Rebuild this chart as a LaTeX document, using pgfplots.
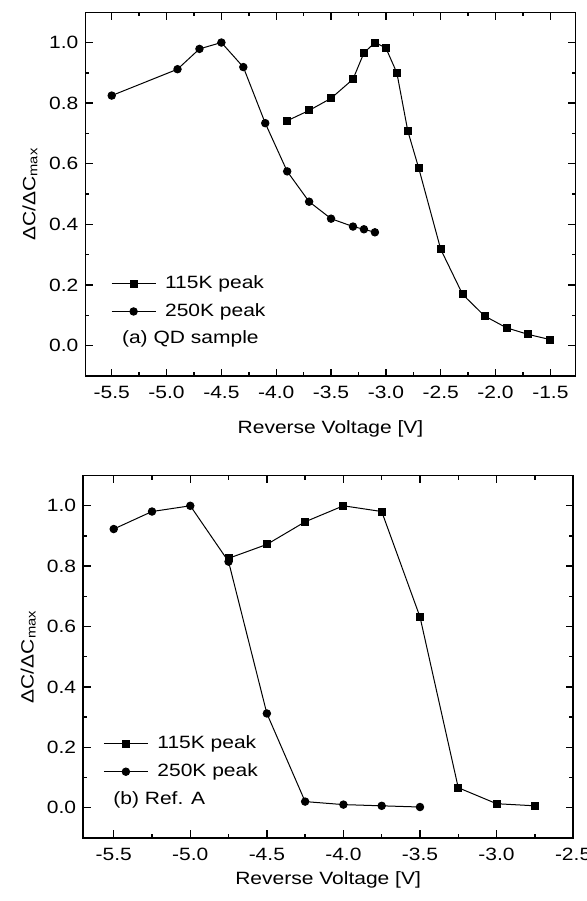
\documentclass[border=0pt]{standalone}
\usepackage{fontspec}
\setmainfont{Liberation Sans}[FakeStretch=1.18]
\usepackage{pgfplots}
\pgfplotsset{compat=1.18}
\newcommand{\ff}{\fontsize{8.9}{10.5}\selectfont}
\pgfplotsset{myax/.style={
  scale only axis,
  ymin=-0.1, ymax=1.1,
  ytick={0,0.2,0.4,0.6,0.8,1.0},
  minor y tick num=1,
  minor x tick num=1,
  tick align=inside,
  major tick length=3.75pt, minor tick length=2pt,
  axis line style={line width=0.7pt},
  every tick/.style={black, line width=0.7pt},
  xticklabel={\pgfmathprintnumber[fixed, fixed zerofill, precision=1, assume math mode=true]{\tick}},
  yticklabel={\pgfmathprintnumber[fixed, fixed zerofill, precision=1, assume math mode=true]{\tick}},
  tick label style={font=\ff},
  xticklabel style={yshift=-1.5pt},
  label style={font=\ff},
  ylabel={ΔC/ΔC\textsubscript{max}},
  xlabel={Reverse Voltage [V]},
  legend cell align=left,
  legend style={draw=none, fill=none, inner sep=0pt, row sep=4pt, column sep=3.5pt,
     font=\ff, nodes={inner sep=1pt}},
  legend image code/.code={\draw[mark repeat=2,mark phase=2] plot coordinates {(0pt,0pt)(11pt,0pt)(22pt,0pt)};},
}}
\begin{document}
\begin{tikzpicture}[x=1pt,y=1pt]
\path[use as bounding box] (0,0) rectangle (293.5,-450.5);
% (a)
\begin{axis}[myax,
  at={(42.7pt,-6.1pt)}, anchor=north west,
  width=245.1pt, height=181.9pt,
  xmin=-5.74, xmax=-1.27,
  xtick={-5.5,-5,-4.5,-4,-3.5,-3,-2.5,-2,-1.5},
  ylabel style={at={(axis description cs:-0.113,0.5)}, anchor=center},
  xlabel style={at={(axis description cs:0.5,-0.146)}, anchor=center},
  legend style={at={(axis description cs:0.0516,0.2157)}, anchor=west},
]
\addplot[black, line width=0.5pt, mark=square*, mark size=1.75pt, mark options={fill=black}] coordinates {
(-3.9,0.742) (-3.7,0.776) (-3.5,0.816) (-3.3,0.879) (-3.2,0.966) (-3.1,1.0)
(-3.0,0.982) (-2.9,0.900) (-2.8,0.708) (-2.7,0.585) (-2.5,0.318) (-2.3,0.169)
(-2.1,0.098) (-1.9,0.059) (-1.7,0.037) (-1.5,0.020)};
\addlegendentry{115K peak}
\addplot[black, line width=0.5pt, mark=*, mark size=1.85pt, mark options={fill=black}] coordinates {
(-5.5,0.825) (-4.9,0.912) (-4.7,0.979) (-4.5,1.0) (-4.3,0.919) (-4.1,0.734)
(-3.9,0.575) (-3.7,0.475) (-3.5,0.419) (-3.3,0.393) (-3.2,0.384) (-3.1,0.374)};
\addlegendentry{250K peak}
\node[anchor=west, font=\ff, inner sep=0pt] at (axis description cs:0.074,0.1016) {(a) QD sample};
\end{axis}
% (b)
\begin{axis}[myax,
  at={(41.55pt,-237.8pt)}, anchor=north west,
  width=245pt, height=181.1pt,
  xmin=-5.7, xmax=-2.5,
  xtick={-5.5,-5,-4.5,-4,-3.5,-3,-2.5},
  ylabel style={at={(axis description cs:-0.112,0.5)}, anchor=center},
  xlabel style={at={(axis description cs:0.5,-0.117)}, anchor=center},
  legend style={at={(axis description cs:0.0406,0.221)}, anchor=west},
]
\addplot[black, line width=0.5pt, mark=square*, mark size=1.75pt, mark options={fill=black}] coordinates {
(-4.75,0.826) (-4.5,0.872) (-4.25,0.947) (-4.0,1.0) (-3.75,0.981) (-3.5,0.632)
(-3.25,0.066) (-3.0,0.013) (-2.75,0.006)};
\addlegendentry{115K peak}
\addplot[black, line width=0.5pt, mark=*, mark size=1.85pt, mark options={fill=black}] coordinates {
(-5.5,0.923) (-5.25,0.981) (-5.0,1.0) (-4.75,0.815) (-4.5,0.312) (-4.25,0.020)
(-4.0,0.010) (-3.75,0.006) (-3.5,0.002)};
\addlegendentry{250K peak}
\node[anchor=west, font=\ff, inner sep=0pt] at (axis description cs:0.061,0.104) {(b) Ref. A};
\end{axis}
\end{tikzpicture}
\end{document}
